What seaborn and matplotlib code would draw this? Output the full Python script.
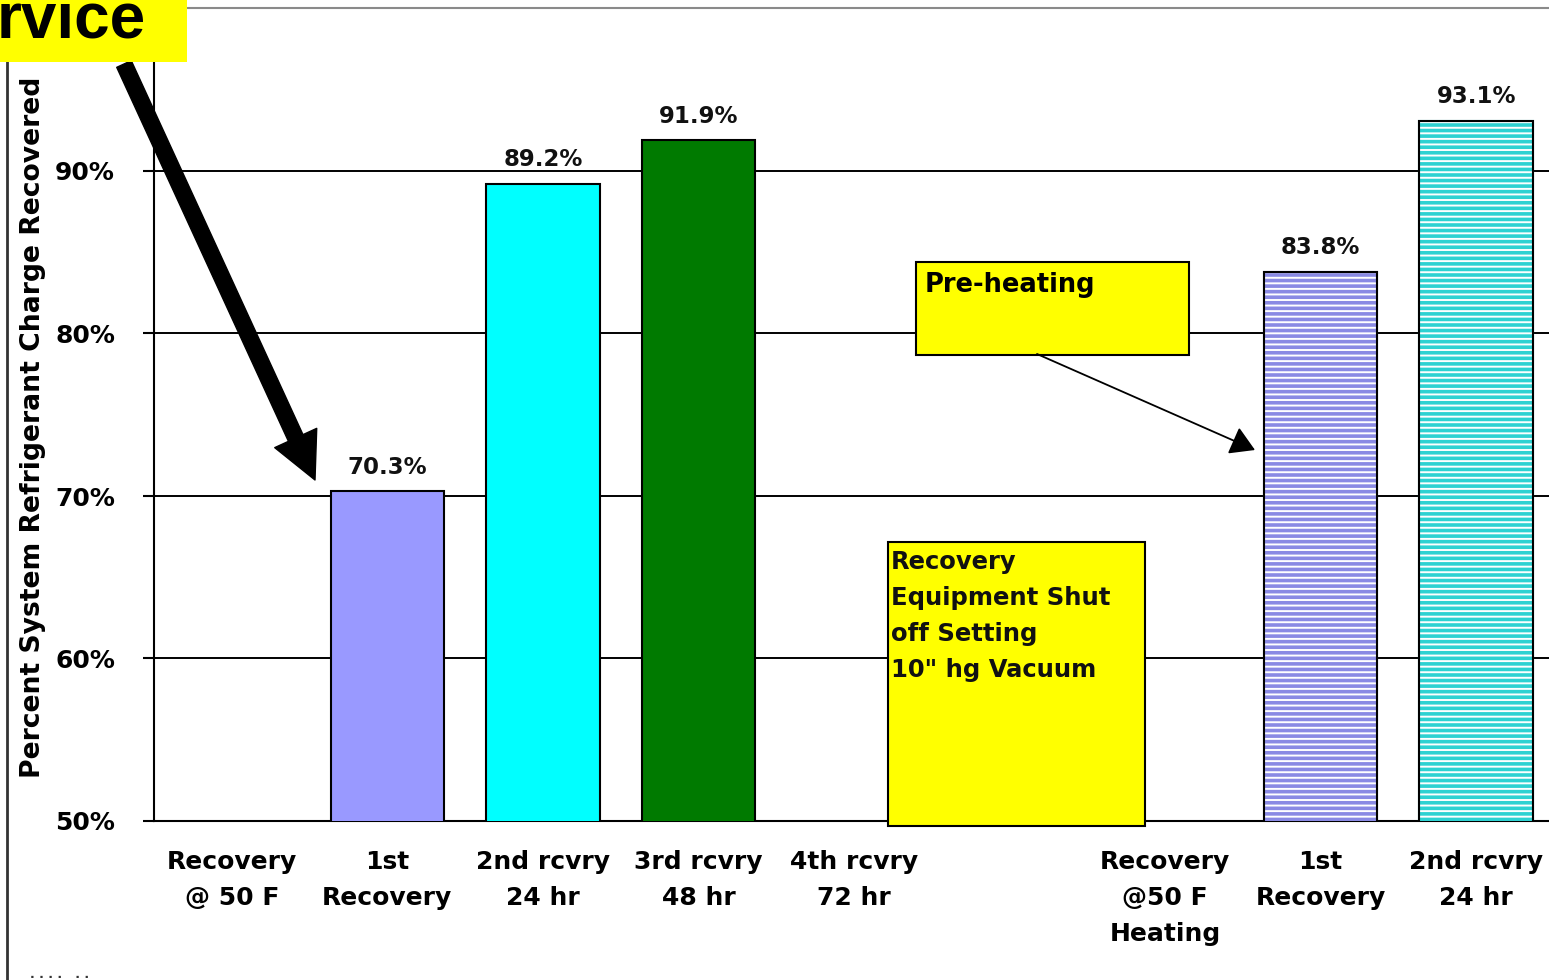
import numpy as np
import pandas as pd
import matplotlib
matplotlib.use("Agg")
import matplotlib.pyplot as plt
import seaborn as sns
from matplotlib.patches import Rectangle
from matplotlib.lines import Line2D

# ---- data -------------------------------------------------------------
slots = ["rec50", "rec1", "rec2", "rec3", "rec4", "gap", "heat50", "heat1", "heat2"]
tick_labels = [
    "Recovery\n@ 50 F", "1st\nRecovery", "2nd rcvry\n24 hr", "3rd rcvry\n48 hr",
    "4th rcvry\n72 hr", "", "Recovery\n@50 F\nHeating", "1st\nRecovery", "2nd rcvry\n24 hr",
]
percent_recovered = [np.nan, 70.3, 89.2, 91.9, np.nan, np.nan, np.nan, 83.8, 93.1]
y_ticks = [50, 60, 70, 80, 90]

solid_colors = {"rec1": "#9999ff", "rec2": "#00ffff", "rec3": "#007a00"}
stripe_colors = {"heat1": "#8a8ae4", "heat2": "#2ed2d2"}

# ---- style ------------------------------------------------------------
sns.set_style("white")
plt.rcParams["font.family"] = ["DejaVu Sans"]
plt.rcParams["hatch.linewidth"] = 2.6
plt.rcParams.update({"text.color": "black", "axes.labelcolor": "black",
                     "xtick.color": "black", "ytick.color": "black"})

W, H = 1549, 980
fig = plt.figure(figsize=(W / 100, H / 100), dpi=100)
ax = fig.add_axes([154 / W, 1 - 821 / H, 1400 / W, (821 - 8.5) / H])

df = pd.DataFrame({"slot": slots, "pct": percent_recovered}).dropna()
palette = {s: solid_colors.get(s, "white") for s in df["slot"]}
sns.barplot(
    data=df, x="slot", y="pct", order=slots, hue="slot", palette=palette,
    width=0.73, saturation=1, edgecolor="black", linewidth=1.5,
    legend=False, ax=ax, zorder=3,
)

# striped bars for the heated runs, outlined in black
for p in list(ax.patches):
    idx = int(round(p.get_x() + p.get_width() / 2))
    key = slots[idx]
    if key in stripe_colors:
        p.set_facecolor("white")
        p.set_edgecolor(stripe_colors[key])
        p.set_hatch("---")
        ax.add_patch(Rectangle((p.get_x(), p.get_y()), p.get_width(), p.get_height(),
                               fill=False, edgecolor="black", linewidth=1.5, zorder=4))

for c in ax.containers:
    ax.bar_label(c, labels=[f"{v:.1f}%" for v in c.datavalues], padding=9,
                 fontsize=16.5, fontweight="bold", color="#111111")

# ---- axes -------------------------------------------------------------
ax.set_xlim(-0.5, len(slots) - 0.5)
ax.set_ylim(50, 100)
ax.set_yticks(y_ticks)
ax.set_yticklabels([f"{t}%" for t in y_ticks], fontsize=18, fontweight="bold")
ax.set_xticks(range(len(slots)))
ax.set_xticklabels(tick_labels, fontsize=18, fontweight="bold", linespacing=1.62)
ax.set_xticks(np.arange(-0.5, len(slots), 1), minor=True)
ax.tick_params(axis="x", which="major", length=0, pad=21)
ax.tick_params(axis="x", which="minor", length=6, width=1.5, color="black", direction="out")
ax.tick_params(axis="y", which="major", length=8, width=1.5, color="black", direction="out", pad=20, left=True)
ax.yaxis.grid(True, color="black", linewidth=1.4)
ax.set_axisbelow(True)
ax.set_xlabel("")
ax.set_ylabel("Percent System Refrigerant Charge Recovered", fontsize=19.2, fontweight="bold")
ax.yaxis.set_label_coords(-0.077, 0.484)
for side in ("left", "bottom"):
    ax.spines[side].set_color("black")
    ax.spines[side].set_linewidth(1.5)
ax.spines["top"].set_color("#8a8a8a")
ax.spines["top"].set_linewidth(1.5)
ax.spines["right"].set_visible(False)

# ---- callouts ---------------------------------------------------------
def ax_frac(px, py):
    return ((px - 154) / 1400, (821 - py) / 812.5)

x0, y0 = ax_frac(916, 355)
x1, y1 = ax_frac(1189, 262)
ax.add_patch(Rectangle((x0, y0), x1 - x0, y1 - y0, transform=ax.transAxes,
                       facecolor="#ffff00", edgecolor="black", linewidth=1.5,
                       zorder=6, clip_on=False))
tx, ty = ax_frac(925, 272)
ax.text(tx, ty, "Pre-heating", transform=ax.transAxes, ha="left", va="top",
        fontsize=18.5, fontweight="bold", zorder=7)
ax.annotate("", xy=ax_frac(1255, 450), xycoords="axes fraction",
            xytext=ax_frac(1037, 354), textcoords="axes fraction",
            arrowprops=dict(arrowstyle="-|>,head_length=0.5,head_width=0.3", color="black",
                            lw=1.3, mutation_scale=30, shrinkA=0, shrinkB=0), zorder=7)

x0, y0 = ax_frac(888, 826)
x1, y1 = ax_frac(1145, 542)
ax.add_patch(Rectangle((x0, y0), x1 - x0, y1 - y0, transform=ax.transAxes,
                       facecolor="#ffff00", edgecolor="black", linewidth=1.5,
                       zorder=6, clip_on=False))
tx, ty = ax_frac(891, 550)
ax.text(tx, ty, "Recovery\nEquipment Shut\noff Setting\n10\" hg Vacuum",
        transform=ax.transAxes, ha="left", va="top", fontsize=17.5, fontweight="bold",
        linespacing=1.64, color="#111111", zorder=7)

# slide decorations around the chart
fig.add_artist(Line2D([7 / W, 7 / W], [0, 1], color="#333333", linewidth=2))
fig.add_artist(Rectangle((0, 1 - 62 / H), 187 / W, 62 / H, transform=fig.transFigure,
                         facecolor="#ffff00", edgecolor="none", zorder=10))
fig.text(146 / W, 1 - 38 / H, "rvice", ha="right", va="baseline", fontsize=46,
         fontweight="bold", family=["Liberation Sans", "DejaVu Sans"], zorder=11)
ax.annotate("", xy=(315, H - 480), xycoords="figure pixels",
            xytext=(124, H - 64), textcoords="figure pixels",
            arrowprops=dict(arrowstyle="simple,head_length=0.52,head_width=0.52,tail_width=0.18",
                            color="black", mutation_scale=64, shrinkA=0, shrinkB=0),
            zorder=9, annotation_clip=False)
fig.text(30 / W, 2 / H, ". . . .   . .", fontsize=9, fontweight="bold", color="#333333")

fig.savefig("out.png", dpi=100, facecolor="white")
